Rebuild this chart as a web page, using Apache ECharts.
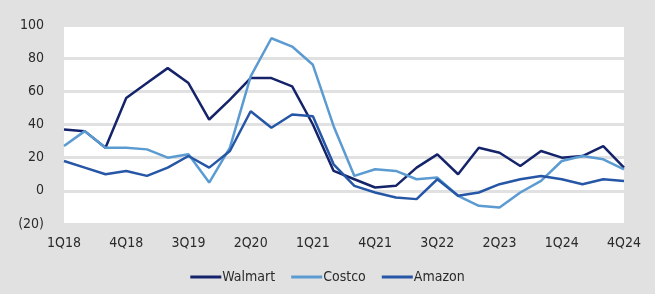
<!DOCTYPE html>
<html>
<head>
<meta charset="utf-8">
<script src="https://cdn.jsdelivr.net/npm/echarts@6/dist/echarts.min.js"></script>
<style>
  html, body { margin: 0; padding: 0; background: #e1e1e1; }
  #chart { width: 655px; height: 294px; }
</style>
</head>
<body>
<div id="chart"></div>
<script>
var quarters = [];
var years = ['18', '19', '20', '21', '22', '23', '24'];
for (var y = 0; y < years.length; y++) {
    for (var q = 1; q <= 4; q++) {
        quarters.push(q + 'Q' + years[y]);
    }
}
var walmart = [37, 36, 26, 56, 65, 74, 65, 43, 55, 68, 68, 63, 40, 12, 7, 2, 3, 14, 22, 10, 26, 23, 15, 24, 20, 21, 27, 14];
var costco = [27, 36, 26, 26, 25, 20, 22, 5, 26, 69, 92, 87, 76, 39, 9, 13, 12, 7, 8, -3, -9, -10, -1, 6, 18, 21, 19, 13];
var amazon = [18, 14, 10, 12, 9, 14, 21, 14, 24, 48, 38, 46, 45, 16, 3, -1, -4, -5, 7, -3, -1, 4, 7, 9, 7, 4, 7, 6];

var chart = echarts.init(document.getElementById('chart'));
var font = '"DejaVu Sans Condensed", sans-serif';
var option = {
    backgroundColor: '#e1e1e1',
    textStyle: { fontFamily: font },
    grid: {
        left: 64, right: 31, top: 25, bottom: 70,
        show: true, backgroundColor: '#ffffff', borderWidth: 0
    },
    legend: {
        bottom: 5,
        left: 'center',
        itemWidth: 31,
        itemHeight: 3,
        itemGap: 16,
        icon: 'rect',
        textStyle: { fontFamily: font, fontSize: 14, color: '#2a2a2a', padding: [0, 0, 0, -4] },
        data: ['Walmart', 'Costco', 'Amazon']
    },
    xAxis: {
        type: 'category',
        data: quarters,
        boundaryGap: false,
        axisLine: { show: false },
        axisTick: { show: false },
        axisLabel: {
            interval: 2,
            color: '#2a2a2a',
            fontSize: 14,
            fontFamily: font,
            margin: 12
        },
        splitLine: { show: false }
    },
    yAxis: {
        type: 'value',
        min: -20,
        max: 100,
        interval: 20,
        axisLine: { show: false },
        axisTick: { show: false },
        axisLabel: {
            color: '#2a2a2a',
            fontSize: 14,
            fontFamily: font,
            margin: 20,
            formatter: function (v) { return v < 0 ? '(' + (-v) + ')' : v; }
        },
        splitLine: { lineStyle: { color: '#e1e1e1', width: 3 } }
    },
    series: [
        { name: 'Walmart', type: 'line', data: walmart, symbol: 'none', color: '#15246a', lineStyle: { width: 2.5 } },
        { name: 'Costco', type: 'line', data: costco, symbol: 'none', color: '#5b9bd2', lineStyle: { width: 2.5 } },
        { name: 'Amazon', type: 'line', data: amazon, symbol: 'none', color: '#2656a6', lineStyle: { width: 2.5 } }
    ]
};
chart.setOption(option);
</script>
</body>
</html>
